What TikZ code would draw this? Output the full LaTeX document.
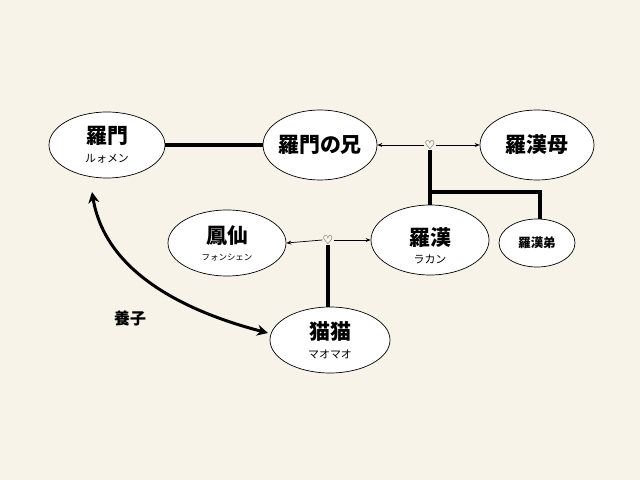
\documentclass[tikz,border=0pt]{standalone}
\usepackage{fontspec}
\newfontfamily\cjk{Noto Sans CJK JP}
\newfontfamily\dejavu{DejaVu Sans}
\usetikzlibrary{arrows.meta,shapes.geometric}
\definecolor{bg}{HTML}{F7F3E8}
\begin{document}
\begin{tikzpicture}[x=1bp,y=-1bp,
  person/.style={draw,ellipse,fill=white,line width=0.7pt,inner sep=0pt},
  big/.style={font=\cjk\bfseries\fontsize{21}{22}\selectfont},
  kana/.style={font=\cjk\fontsize{11}{12}\selectfont},
  thick line/.style={line width=3.5pt},
  thin arrow/.style={-{Stealth[length=5pt,width=4pt]},line width=0.7pt},
  heart/.style={font=\dejavu\fontsize{12}{12}\selectfont,inner sep=0pt,fill=bg}]
\fill[bg] (0,0) rectangle (640,480);
\useasboundingbox (0,0) rectangle (640,480);
\node[person,minimum width=116bp,minimum height=66bp] (ramon) at (107,145) {};
\node[big] (ramonT) at (107,136) {羅門};
\node[kana] (ramonK) at (107,159) {ルォメン};
\node[person,minimum width=114bp,minimum height=70bp] (ani) at (320,145) {};
\node[big] (aniT) at (320,145) {羅門の兄};
\node[person,minimum width=114bp,minimum height=70bp] (haha) at (537,145) {};
\node[big] (hahaT) at (537,145) {羅漢母};
\node[person,minimum width=118bp,minimum height=66bp] (fengxian) at (227,243) {};
\node[big] (fengxianT) at (227,236) {鳳仙};
\node[font=\cjk\fontsize{8.5}{9}\selectfont] (fengxianK) at (227,258) {フォンシェン};
\node[person,minimum width=118bp,minimum height=70bp] (rakan) at (430,240) {};
\node[big] (rakanT) at (430,238) {羅漢};
\node[kana] (rakanK) at (430,259) {ラカン};
\node[person,minimum width=76bp,minimum height=48bp] (otouto) at (537,243) {};
\node[font=\cjk\bfseries\fontsize{12.5}{13}\selectfont] (otoutoT) at (537,243) {羅漢弟};
\node[person,minimum width=120bp,minimum height=66bp] (maomao) at (330,340) {};
\node[big] (maomaoT) at (330,331) {猫猫};
\node[kana] (maomaoK) at (330,354) {マオマオ};
\node[font=\cjk\bfseries\fontsize{16}{17}\selectfont] (yoshi) at (130,318) {養子};

\node[heart] (h1) at (430,145) {♡};
\node[heart] (h2) at (328,240) {♡};

\draw[thick line] (ramon.east) -- (ani.west);
\draw[thin arrow] (h1.west) -- (ani.east);
\draw[thin arrow] (h1.east) -- (haha.west);
\draw[thin arrow] (h2.west) -- (fengxian.east);
\draw[thin arrow] (h2.east) -- (rakan.west);
\coordinate (b1) at (430,192);
\coordinate (b2) at (540,192);
\draw[thick line] (h1.south) -- (rakan.north);
\draw[thick line,line join=miter] (b1) -- (b2) -- (otouto.north -| b2);
\draw[thick line] (h2.south) -- (maomao.north -| h2);
\coordinate (a1) at (92,192);
\coordinate (a2) at (268,333);
\draw[line width=3pt,{Stealth[length=11pt,width=11pt]}-{Stealth[length=11pt,width=11pt]}] (a1) .. controls (105,270) and (180,310) .. (a2);
\end{tikzpicture}
\end{document}
